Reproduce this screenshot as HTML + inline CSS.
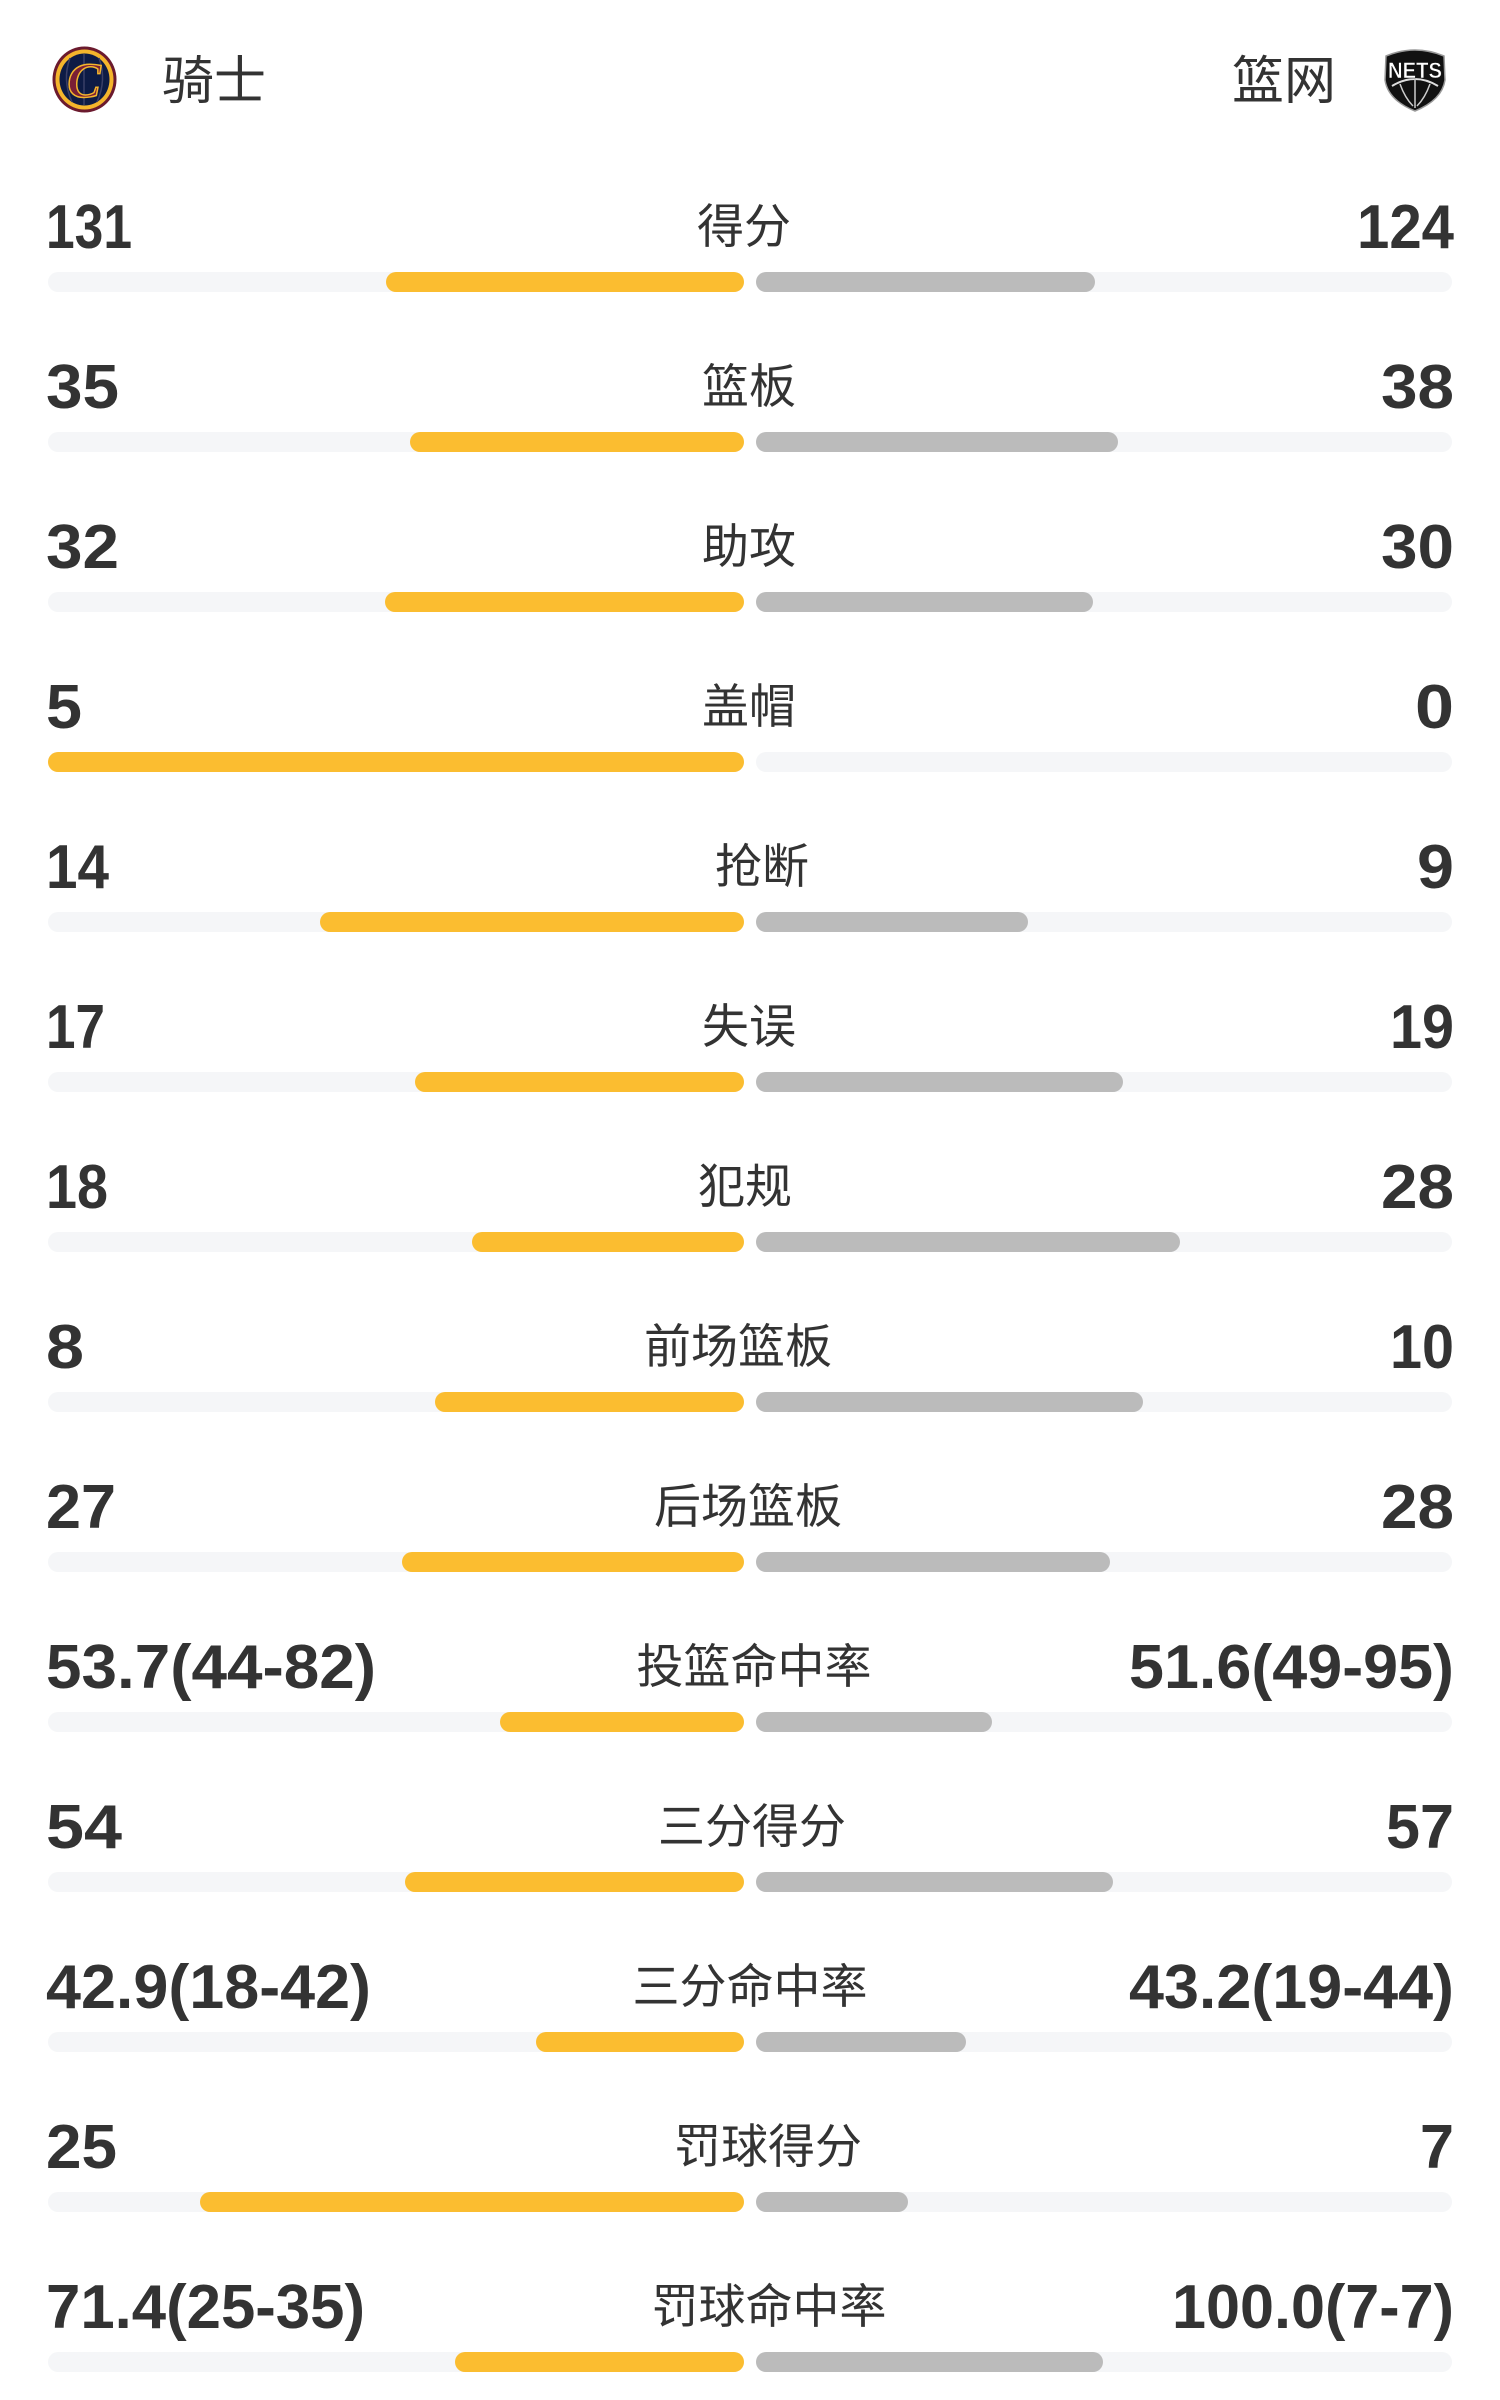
<!DOCTYPE html>
<html><head><meta charset="utf-8"><style>
html,body{margin:0;padding:0;background:#fff;}
svg{display:block;}
.n{font-family:"Liberation Sans",sans-serif;font-weight:bold;font-size:62px;fill:#333;}
.l{font-family:"Liberation Sans","Noto Sans CJK SC",sans-serif;font-size:47px;fill:#333;text-anchor:middle;}
.h{font-family:"Liberation Sans","Noto Sans CJK SC",sans-serif;font-size:52px;fill:#333;}
</style></head><body>
<svg width="1500" height="2400" viewBox="0 0 1500 2400" xmlns="http://www.w3.org/2000/svg">
<rect width="1500" height="2400" fill="#fff"/>
<!-- Cavs logo -->
<ellipse cx="84.5" cy="79.5" rx="32" ry="33" fill="#6b1a2e"/>
<ellipse cx="84.5" cy="79.5" rx="29" ry="30" fill="#f4b52c"/>
<ellipse cx="84.5" cy="79.5" rx="25" ry="26" fill="#0d1b45"/>
<path d="M84 54 L84 105 M70 58 Q62 80 72 102 M99 58 Q107 80 97 102" stroke="#3a3f66" stroke-width="1.5" fill="none"/>
<text x="84" y="97" font-family="Liberation Serif,serif" font-style="italic" font-weight="bold" font-size="50" fill="#7a1f35" stroke="#f4b52c" stroke-width="1.5" text-anchor="middle">C</text>
<text x="162" y="99" class="h">骑士</text>
<text x="1336" y="99" class="h" text-anchor="end">篮网</text>
<!-- Nets logo -->
<path d="M1386 56 Q1415 44 1444 56 L1445 80 Q1442 100 1415 111 Q1388 100 1385 80 Z" fill="#111" stroke="#999" stroke-width="1.5"/>
<path d="M1392 86 Q1415 72 1438 86" stroke="#ddd" stroke-width="2" fill="none"/>
<path d="M1400 84 Q1405 98 1413 106 M1430 84 Q1425 98 1417 106 M1415 78 L1415 108" stroke="#ccc" stroke-width="1.5" fill="none"/>
<text x="1415" y="78" font-family="Liberation Sans,sans-serif" font-weight="bold" font-size="22" fill="#fff" stroke="#111" stroke-width="0.5" text-anchor="middle" textLength="54" lengthAdjust="spacingAndGlyphs">NETS</text>

<g id="rows">
<!-- tracks -->
<g fill="#f5f6f8">
<rect x="48" y="272" width="696" height="20" rx="10"/><rect x="756" y="272" width="696" height="20" rx="10"/>
<rect x="48" y="432" width="696" height="20" rx="10"/><rect x="756" y="432" width="696" height="20" rx="10"/>
<rect x="48" y="592" width="696" height="20" rx="10"/><rect x="756" y="592" width="696" height="20" rx="10"/>
<rect x="48" y="752" width="696" height="20" rx="10"/><rect x="756" y="752" width="696" height="20" rx="10"/>
<rect x="48" y="912" width="696" height="20" rx="10"/><rect x="756" y="912" width="696" height="20" rx="10"/>
<rect x="48" y="1072" width="696" height="20" rx="10"/><rect x="756" y="1072" width="696" height="20" rx="10"/>
<rect x="48" y="1232" width="696" height="20" rx="10"/><rect x="756" y="1232" width="696" height="20" rx="10"/>
<rect x="48" y="1392" width="696" height="20" rx="10"/><rect x="756" y="1392" width="696" height="20" rx="10"/>
<rect x="48" y="1552" width="696" height="20" rx="10"/><rect x="756" y="1552" width="696" height="20" rx="10"/>
<rect x="48" y="1712" width="696" height="20" rx="10"/><rect x="756" y="1712" width="696" height="20" rx="10"/>
<rect x="48" y="1872" width="696" height="20" rx="10"/><rect x="756" y="1872" width="696" height="20" rx="10"/>
<rect x="48" y="2032" width="696" height="20" rx="10"/><rect x="756" y="2032" width="696" height="20" rx="10"/>
<rect x="48" y="2192" width="696" height="20" rx="10"/><rect x="756" y="2192" width="696" height="20" rx="10"/>
<rect x="48" y="2352" width="696" height="20" rx="10"/><rect x="756" y="2352" width="696" height="20" rx="10"/>
</g>
<!-- yellow -->
<g fill="#fbbd30">
<rect x="386" y="272" width="358" height="20" rx="10"/>
<rect x="410" y="432" width="334" height="20" rx="10"/>
<rect x="385" y="592" width="359" height="20" rx="10"/>
<rect x="48" y="752" width="696" height="20" rx="10"/>
<rect x="320" y="912" width="424" height="20" rx="10"/>
<rect x="415" y="1072" width="329" height="20" rx="10"/>
<rect x="472" y="1232" width="272" height="20" rx="10"/>
<rect x="435" y="1392" width="309" height="20" rx="10"/>
<rect x="402" y="1552" width="342" height="20" rx="10"/>
<rect x="500" y="1712" width="244" height="20" rx="10"/>
<rect x="405" y="1872" width="339" height="20" rx="10"/>
<rect x="536" y="2032" width="208" height="20" rx="10"/>
<rect x="200" y="2192" width="544" height="20" rx="10"/>
<rect x="455" y="2352" width="289" height="20" rx="10"/>
</g>
<!-- gray -->
<g fill="#bbbbbb">
<rect x="756" y="272" width="339" height="20" rx="10"/>
<rect x="756" y="432" width="362" height="20" rx="10"/>
<rect x="756" y="592" width="337" height="20" rx="10"/>
<rect x="756" y="912" width="272" height="20" rx="10"/>
<rect x="756" y="1072" width="367" height="20" rx="10"/>
<rect x="756" y="1232" width="424" height="20" rx="10"/>
<rect x="756" y="1392" width="387" height="20" rx="10"/>
<rect x="756" y="1552" width="354" height="20" rx="10"/>
<rect x="756" y="1712" width="236" height="20" rx="10"/>
<rect x="756" y="1872" width="357" height="20" rx="10"/>
<rect x="756" y="2032" width="210" height="20" rx="10"/>
<rect x="756" y="2192" width="152" height="20" rx="10"/>
<rect x="756" y="2352" width="347" height="20" rx="10"/>
</g>
<!-- left numbers -->
<g class="n">
<text x="46" y="248" textLength="86" lengthAdjust="spacingAndGlyphs">131</text>
<text x="46" y="408" textLength="73" lengthAdjust="spacingAndGlyphs">35</text>
<text x="46" y="568" textLength="73" lengthAdjust="spacingAndGlyphs">32</text>
<text x="46" y="728" textLength="36" lengthAdjust="spacingAndGlyphs">5</text>
<text x="46" y="888" textLength="63" lengthAdjust="spacingAndGlyphs">14</text>
<text x="46" y="1048" textLength="59" lengthAdjust="spacingAndGlyphs">17</text>
<text x="46" y="1208" textLength="62" lengthAdjust="spacingAndGlyphs">18</text>
<text x="46" y="1368" textLength="38" lengthAdjust="spacingAndGlyphs">8</text>
<text x="46" y="1528" textLength="70" lengthAdjust="spacingAndGlyphs">27</text>
<text x="46" y="1688" textLength="330" lengthAdjust="spacingAndGlyphs">53.7(44-82)</text>
<text x="46" y="1848" textLength="76" lengthAdjust="spacingAndGlyphs">54</text>
<text x="46" y="2008" textLength="325" lengthAdjust="spacingAndGlyphs">42.9(18-42)</text>
<text x="46" y="2168" textLength="71" lengthAdjust="spacingAndGlyphs">25</text>
<text x="46" y="2328" textLength="319" lengthAdjust="spacingAndGlyphs">71.4(25-35)</text>
</g>
<!-- right numbers -->
<g class="n" text-anchor="end">
<text x="1454" y="248" textLength="97" lengthAdjust="spacingAndGlyphs">124</text>
<text x="1454" y="408" textLength="73" lengthAdjust="spacingAndGlyphs">38</text>
<text x="1454" y="568" textLength="73" lengthAdjust="spacingAndGlyphs">30</text>
<text x="1454" y="728" textLength="39" lengthAdjust="spacingAndGlyphs">0</text>
<text x="1454" y="888" textLength="37" lengthAdjust="spacingAndGlyphs">9</text>
<text x="1454" y="1048" textLength="64" lengthAdjust="spacingAndGlyphs">19</text>
<text x="1454" y="1208" textLength="73" lengthAdjust="spacingAndGlyphs">28</text>
<text x="1454" y="1368" textLength="64" lengthAdjust="spacingAndGlyphs">10</text>
<text x="1454" y="1528" textLength="73" lengthAdjust="spacingAndGlyphs">28</text>
<text x="1454" y="1688" textLength="325" lengthAdjust="spacingAndGlyphs">51.6(49-95)</text>
<text x="1454" y="1848" textLength="68" lengthAdjust="spacingAndGlyphs">57</text>
<text x="1454" y="2008" textLength="325" lengthAdjust="spacingAndGlyphs">43.2(19-44)</text>
<text x="1454" y="2168" textLength="34" lengthAdjust="spacingAndGlyphs">7</text>
<text x="1454" y="2328" textLength="282" lengthAdjust="spacingAndGlyphs">100.0(7-7)</text>
</g>
<!-- labels -->
<g class="l">
<text x="744" y="243">得分</text>
<text x="749" y="403">篮板</text>
<text x="749" y="563">助攻</text>
<text x="749" y="723">盖帽</text>
<text x="762" y="883">抢断</text>
<text x="749" y="1043">失误</text>
<text x="745" y="1203">犯规</text>
<text x="738" y="1363">前场篮板</text>
<text x="748" y="1523">后场篮板</text>
<text x="754" y="1683">投篮命中率</text>
<text x="752" y="1843">三分得分</text>
<text x="750" y="2003">三分命中率</text>
<text x="768" y="2163">罚球得分</text>
<text x="769" y="2323">罚球命中率</text>
</g>
</g>
</svg>
</body></html>
